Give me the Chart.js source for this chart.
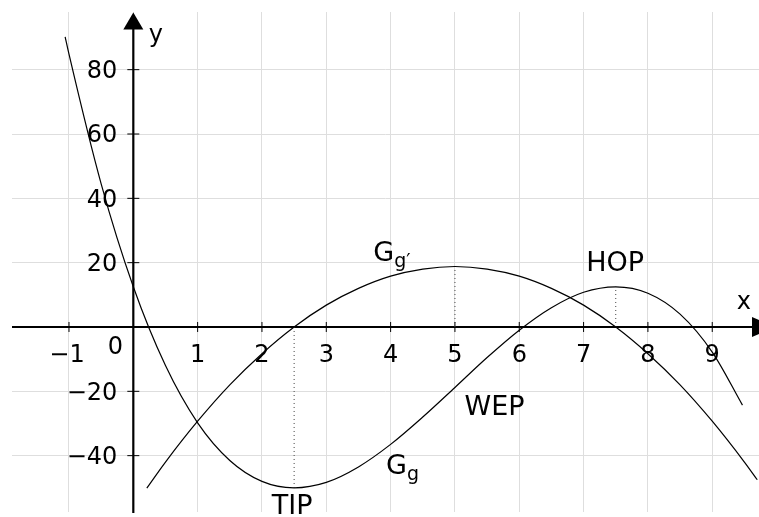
<!DOCTYPE html>
<html lang="de">

<head>
    <meta charset="UTF-8">
    <title>Graph von g und g'</title>
    <script src="https://cdn.jsdelivr.net/npm/chart.js"></script>
    <style>
        html, body { margin: 0; padding: 0; background: #fff; }
        #plot { display: block; }
    </style>
</head>

<body>
    <canvas id="plot" width="759" height="517"></canvas>

    <script>
        // Graph G_g
        const gX = [-1.06, -1, -0.5, 0, 0.5, 1, 1.5, 2, 2.5, 3, 3.5, 4, 4.5, 5, 5.5, 6, 6.5, 7, 7.5, 8, 8.5, 9, 9.47];
        const gY = [90.2, 84.8, 44.5, 12.5, -12.0, -29.8, -41.5, -48.0, -50.0, -48.3, -43.5, -36.5, -28.0, -18.8, -9.5, -1.0, 6.0, 10.8, 12.5, 10.5, 4.0, -7.8, -24.3];

        // Graph G_g' (parabola)
        const dX = [0.21, 0.5, 1, 1.5, 2, 2.5, 3, 3.5, 4, 4.5, 5, 5.5, 6, 6.5, 7, 7.5, 8, 8.5, 9, 9.5, 9.7];
        const dY = [-50.1, -42.0, -29.3, -18.0, -8.3, 0, 6.8, 12.0, 15.8, 18.0, 18.8, 18.0, 15.8, 12.0, 6.8, 0, -8.3, -18.0, -29.3, -42.0, -47.5];

        // special points: TIP, WEP (on g'), HOP
        const markX = [2.5, 5, 7.5];
        const markY = [-50, 18.8, 12.5];

        // tick labels
        const xTicks = [-1, 1, 2, 3, 4, 5, 6, 7, 8, 9];
        const yTicks = [-40, -20, 20, 40, 60, 80];

        const FONT = '"DejaVu Sans", sans-serif';

        function pts(xs, ys) {
            return xs.map((x, i) => ({ x: x, y: ys[i] }));
        }

        const curveStyle = {
            showLine: true,
            borderColor: '#000',
            borderWidth: 1.2,
            pointRadius: 0,
            fill: false,
            cubicInterpolationMode: 'monotone'
        };

        const dotted = markX.map((x, i) => ({
            data: [{ x: x, y: 0 }, { x: x, y: markY[i] }],
            showLine: true,
            borderColor: '#444',
            borderWidth: 1,
            borderDash: [1, 3],
            pointRadius: 0,
            fill: false
        }));

        // axes, arrows, tick labels and annotations
        const mathAxes = {
            id: 'mathAxes',
            beforeDatasetsDraw(chart) {
                const { ctx, chartArea: a, scales: { x, y } } = chart;
                const ox = x.getPixelForValue(0);
                const oy = y.getPixelForValue(0);
                ctx.save();
                ctx.strokeStyle = '#000';
                ctx.fillStyle = '#000';

                // axis lines
                ctx.lineWidth = 2.2;
                ctx.beginPath();
                ctx.moveTo(a.left, oy);
                ctx.lineTo(a.right - 6, oy);
                ctx.moveTo(ox, a.bottom + 1);
                ctx.lineTo(ox, a.top + 16);
                ctx.stroke();

                // arrow heads
                ctx.beginPath();
                ctx.moveTo(ox, a.top + 0.5);
                ctx.lineTo(ox - 10, a.top + 17.5);
                ctx.lineTo(ox + 10, a.top + 17.5);
                ctx.closePath();
                ctx.fill();
                ctx.beginPath();
                ctx.moveTo(a.right + 17, oy);
                ctx.lineTo(a.right - 7, oy - 10);
                ctx.lineTo(a.right - 7, oy + 10);
                ctx.closePath();
                ctx.fill();

                // tick marks
                ctx.lineWidth = 1;
                ctx.beginPath();
                xTicks.forEach(v => {
                    const px = x.getPixelForValue(v);
                    ctx.moveTo(px, oy - 5);
                    ctx.lineTo(px, oy + 5);
                });
                yTicks.forEach(v => {
                    const py = y.getPixelForValue(v);
                    ctx.moveTo(ox - 6, py);
                    ctx.lineTo(ox + 6, py);
                });
                ctx.stroke();
                ctx.restore();
            },
            afterDatasetsDraw(chart) {
                const { ctx, scales: { x, y } } = chart;
                const ox = x.getPixelForValue(0);
                const oy = y.getPixelForValue(0);
                ctx.save();
                ctx.fillStyle = '#000';
                ctx.font = '24px ' + FONT;

                // tick labels
                ctx.textAlign = 'center';
                ctx.textBaseline = 'middle';
                xTicks.forEach(v => {
                    const s = v < 0 ? '\u2212' + Math.abs(v) : String(v);
                    ctx.fillText(s, x.getPixelForValue(v) - (v < 0 ? 2 : 0), oy + 29);
                });
                ctx.fillText('0', ox - 18, oy + 21);
                ctx.textAlign = 'right';
                yTicks.forEach(v => {
                    const s = v < 0 ? '\u2212' + Math.abs(v) : String(v);
                    ctx.fillText(s, ox - 16, y.getPixelForValue(v) + 2);
                });

                // axis names
                ctx.textAlign = 'center';
                ctx.fillText('x', x.getPixelForValue(9.49), y.getPixelForValue(7.5));
                ctx.fillText('y', x.getPixelForValue(0.35), y.getPixelForValue(90.5));

                // point names
                ctx.font = '27px ' + FONT;
                ctx.textBaseline = 'alphabetic';
                ctx.fillText('HOP', x.getPixelForValue(7.49), y.getPixelForValue(17.3));
                ctx.fillText('TIP', x.getPixelForValue(2.47), y.getPixelForValue(-58.0));
                ctx.textAlign = 'left';
                ctx.fillText('WEP', x.getPixelForValue(5.15), y.getPixelForValue(-27.3));

                // graph names with subscripts
                function gname(sub, vx, vy) {
                    const px = x.getPixelForValue(vx);
                    const py = y.getPixelForValue(vy);
                    ctx.font = '27px ' + FONT;
                    ctx.fillText('G', px, py);
                    const w = ctx.measureText('G').width;
                    ctx.font = '19px ' + FONT;
                    ctx.fillText(sub, px + w, py + 6);
                }
                gname('g\u2032', 3.73, 20.4);
                gname('g', 3.93, -45.6);

                ctx.restore();
            }
        };

        new Chart(document.getElementById('plot'), {
            type: 'scatter',
            data: {
                datasets: [
                    Object.assign({ data: pts(gX, gY) }, curveStyle),
                    Object.assign({ data: pts(dX, dY) }, curveStyle)
                ].concat(dotted)
            },
            options: {
                responsive: false,
                devicePixelRatio: 1,
                animation: false,
                layout: { padding: { left: 12, top: 12, right: 0, bottom: 5 } },
                plugins: { legend: { display: false }, tooltip: { enabled: false } },
                scales: {
                    x: {
                        type: 'linear',
                        min: -1.886,
                        max: 9.727,
                        border: { display: false },
                        grid: { color: '#dedede', lineWidth: 1, drawTicks: false },
                        ticks: { display: false, stepSize: 1, includeBounds: false }
                    },
                    y: {
                        type: 'linear',
                        min: -57.52,
                        max: 97.93,
                        border: { display: false },
                        grid: { color: '#dedede', lineWidth: 1, drawTicks: false },
                        ticks: { display: false, stepSize: 20, includeBounds: false }
                    }
                }
            },
            plugins: [mathAxes]
        });
    </script>
</body>

</html>
